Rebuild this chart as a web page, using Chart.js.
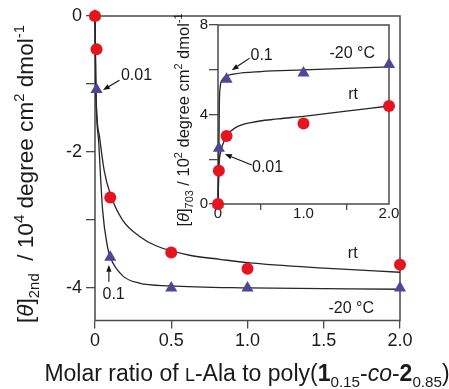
<!DOCTYPE html>
<html>
<head>
<meta charset="utf-8">
<script src="https://cdn.jsdelivr.net/npm/chart.js@4.4.0/dist/chart.umd.min.js"></script>
<style>
html,body{margin:0;padding:0;background:#fff;}
#wrap{position:relative;width:449px;height:389px;}
#main{position:absolute;left:0;top:0;}
#inset{position:absolute;left:160px;top:0;}
</style>
</head>
<body>
<div id="wrap">
<canvas id="main" width="449" height="389"></canvas>
<canvas id="inset" width="260" height="240"></canvas>
</div>
<script>
// ---------- DATA ----------
const mainX = [0, 0.01, 0.1, 0.5, 1.0, 2.0];
const mainRt = [0, -0.49, -2.67, -3.48, -3.72, -3.66];
const mainM20 = [0, -1.08, -3.55, -4.0, -4.0, -4.0];

const mainRtCurveX = [0, 0.006, 0.03, 0.06, 0.1, 0.18, 0.29, 0.4, 0.62, 0.82, 1.0, 1.5, 2.0];
const mainRtCurveY = [0, -1.1, -1.78, -2.27, -2.62, -3.0, -3.24, -3.38, -3.52, -3.58, -3.63, -3.71, -3.77];
const mainM20CurveX = [0, 0.006, 0.025, 0.05, 0.084, 0.1, 0.18, 0.29, 0.49, 1.0, 2.0];
const mainM20CurveY = [0, -1.1, -1.88, -2.86, -3.42, -3.55, -3.82, -3.93, -3.97, -4.0, -4.02];

const insetX = [0, 0.01, 0.1, 1.0, 2.0];
const insetRt = [0, 1.49, 3.04, 3.60, 4.38];
const insetM20 = [0, 2.49, 5.58, 5.86, 6.24];

const insetRtCurveX = [0, 0.005, 0.01, 0.03, 0.06, 0.1, 0.2, 0.4, 0.7, 1.0, 1.5, 2.0];
const insetRtCurveY = [0, 0.8, 1.6, 2.3, 2.7, 3.05, 3.4, 3.65, 3.8, 3.92, 4.15, 4.38];
const insetM20CurveX = [0, 0.008, 0.012, 0.016, 0.025, 0.05, 0.1, 0.2, 0.5, 1.0, 1.5, 2.0];
const insetM20CurveY = [0, 1.5, 3.0, 4.5, 5.2, 5.55, 5.72, 5.82, 5.92, 5.99, 6.06, 6.13];

const mainXTicks = [0, 0.5, 1.0, 1.5, 2.0];
const mainXTickLabels = ['0', '0.5', '1.0', '1.5', '2.0'];
const mainYTicks = [0, -1, -2, -3, -4];
const mainYTickLabels = ['0', '', '-2', '', '-4'];
const insetXTicks = [0, 0.5, 1.0, 1.5, 2.0];
const insetXTickLabels = ['0', '', '1.0', '', '2.0'];
const insetYTicks = [0, 2, 4, 6, 8];
const insetYTickLabels = ['0', '', '4', '', '8'];

// ---------- STYLE ----------
const FONT = '"Liberation Sans", Arial, Helvetica, sans-serif';
const RED = '#e5141f';
const BLUE = '#4b4799';
const LINE = '#262626';
const FRAME = '#4a4a4a';

function pts(xs, ys) { return xs.map((x, i) => ({x: x, y: ys[i]})); }

function markerSet(xs, ys, color, style, r) {
  return {data: pts(xs, ys), showLine: false, pointStyle: style, pointRadius: r,
    pointBackgroundColor: color, pointBorderColor: color, pointBorderWidth: 0, clip: false};
}
function curveSet(xs, ys) {
  return {data: pts(xs, ys), showLine: true, pointRadius: 0, borderColor: LINE, borderWidth: 1.3,
    cubicInterpolationMode: 'monotone', fill: false, clip: false};
}

function segFont(s, base) {
  let size = base;
  if (s.sub || s.sup) size = base * 0.66;
  if (s.sc) size = base * 0.78;
  return (s.it ? 'italic ' : '') + (s.b ? 'bold ' : '') + size.toFixed(1) + 'px ' + FONT;
}
function drawRich(ctx, segs, cx, cy, base, rot) {
  ctx.save();
  ctx.translate(cx, cy);
  if (rot) ctx.rotate(rot);
  ctx.fillStyle = '#1a1a1a';
  ctx.textBaseline = 'alphabetic';
  ctx.textAlign = 'left';
  let total = 0;
  segs.forEach(s => { ctx.font = segFont(s, base); total += ctx.measureText(s.t).width; });
  let x = -total / 2;
  const by = base * 0.36;
  segs.forEach(s => {
    ctx.font = segFont(s, base);
    let dy = 0;
    if (s.sub) dy = base * 0.24;
    if (s.sup) dy = -base * 0.4;
    ctx.fillText(s.t, x, by + dy);
    x += ctx.measureText(s.t).width;
  });
  ctx.restore();
}

function arrow(ctx, x1, y1, x2, y2) {
  ctx.save();
  ctx.strokeStyle = '#111'; ctx.fillStyle = '#111'; ctx.lineWidth = 1.1;
  const a = Math.atan2(y2 - y1, x2 - x1);
  const hl = 7, hw = 2.6;
  const bx = x2 - Math.cos(a) * hl, by = y2 - Math.sin(a) * hl;
  ctx.beginPath(); ctx.moveTo(x1, y1); ctx.lineTo(bx, by); ctx.stroke();
  ctx.beginPath();
  ctx.moveTo(x2, y2);
  ctx.lineTo(bx + Math.sin(a) * hw, by - Math.cos(a) * hw);
  ctx.lineTo(bx - Math.sin(a) * hw, by + Math.cos(a) * hw);
  ctx.closePath(); ctx.fill();
  ctx.restore();
}

const mainNotes = [
  {t: '0.01', x: 0.272, y: -0.87},
  {t: '0.1', x: 0.122, y: -4.1},
  {t: 'rt', x: 1.69, y: -3.5},
  {t: '-20 °C', x: 1.68, y: -4.31}
];
const mainArrows = [
  {x1: 0.16, y1: -0.945, x2: 0.052, y2: -1.09},
  {x1: 0.091, y1: -3.91, x2: 0.091, y2: -3.66}
];
const insetNotes = [
  {t: '0.1', x: 0.51, y: 6.65},
  {t: '-20 °C', x: 1.57, y: 6.74},
  {t: 'rt', x: 1.58, y: 4.87},
  {t: '0.01', x: 0.58, y: 1.61}
];
const insetArrows = [
  {x1: 0.37, y1: 6.52, x2: 0.16, y2: 5.98},
  {x1: 0.395, y1: 1.74, x2: 0.08, y2: 2.23}
];

function framePlugin(id) {
  return {
    id: id,
    beforeDatasetsDraw(chart) {
      const a = chart.chartArea, ctx = chart.ctx;
      ctx.save();
      ctx.strokeStyle = FRAME; ctx.lineWidth = 1.5;
      ctx.strokeRect(a.left, a.top, a.right - a.left, a.bottom - a.top);
      ctx.restore();
    }
  };
}

function notesPlugin(id, notes, arrows, size) {
  return {
    id: id,
    afterDatasetsDraw(chart) {
      const ctx = chart.ctx, xs = chart.scales.x, ys = chart.scales.y;
      ctx.save();
      ctx.fillStyle = '#1a1a1a';
      ctx.font = size + 'px ' + FONT;
      ctx.textAlign = 'center'; ctx.textBaseline = 'middle';
      notes.forEach(n => ctx.fillText(n.t, xs.getPixelForValue(n.x), ys.getPixelForValue(n.y)));
      ctx.restore();
      arrows.forEach(r => arrow(ctx, xs.getPixelForValue(r.x1), ys.getPixelForValue(r.y1),
        xs.getPixelForValue(r.x2), ys.getPixelForValue(r.y2)));
    }
  };
}

const mainYTitle = [
  {t: '['}, {t: 'θ', it: true}, {t: ']'}, {t: '2nd', sub: true}, {t: '  / 10'}, {t: '4', sup: true},
  {t: ' degree cm'}, {t: '2', sup: true}, {t: ' dmol'}, {t: '-1', sup: true}
];
const mainXTitle = [
  {t: 'Molar ratio of '}, {t: 'L', sc: true}, {t: '-Ala to poly('}, {t: '1', b: true}, {t: '0.15', sub: true},
  {t: '-'}, {t: 'co', it: true}, {t: '-'}, {t: '2', b: true}, {t: '0.85', sub: true}, {t: ')'}
];
const insetYTitle = [
  {t: '['}, {t: 'θ', it: true}, {t: ']'}, {t: '703', sub: true}, {t: ' / 10'}, {t: '2', sup: true},
  {t: ' degree cm'}, {t: '2', sup: true}, {t: ' dmol'}, {t: '-1', sup: true}
];

const mainTitles = {
  id: 'mainTitles',
  afterDraw(chart) {
    drawRich(chart.ctx, mainYTitle, 25, 174, 22.6, -Math.PI / 2);
    drawRich(chart.ctx, mainXTitle, 247, 373, 23, 0);
  }
};
const insetTitles = {
  id: 'insetTitles',
  afterDraw(chart) {
    drawRich(chart.ctx, insetYTitle, 23, 120, 16.5, -Math.PI / 2);
  }
};

function axis(min, max, ticks, labels, fontSize, tickLen, fitKey, fitVal, pad, tickColor) {
  return {
    type: 'linear', min: min, max: max,
    afterBuildTicks: s => { s.ticks = ticks.map(v => ({value: v})); },
    afterFit: s => { s[fitKey] = fitVal; },
    ticks: {
      callback: (v, i) => labels[i],
      font: {size: fontSize, family: FONT}, color: '#1a1a1a', padding: pad,
      maxRotation: 0, autoSkip: false
    },
    grid: {drawOnChartArea: false, drawTicks: true, tickLength: tickLen,
      tickColor: tickColor || FRAME, color: FRAME, lineWidth: 1.3},
    border: {display: false}
  };
}

new Chart(document.getElementById('main'), {
  type: 'scatter',
  data: {datasets: [
    markerSet(mainX, mainRt, RED, 'circle', 6),
    markerSet(mainX, mainM20, BLUE, 'triangle', 7),
    curveSet(mainRtCurveX, mainRtCurveY),
    curveSet(mainM20CurveX, mainM20CurveY)
  ]},
  options: {
    responsive: false, animation: false, devicePixelRatio: 1,
    layout: {padding: {left: 0, top: 16, right: 49, bottom: 0}},
    plugins: {legend: {display: false}, tooltip: {enabled: false}},
    scales: {
      x: axis(0, 2, mainXTicks, mainXTickLabels, 18, 8, 'height', 68.5, 2),
      y: axis(-4.48, 0, mainYTicks, mainYTickLabels, 18, 9, 'width', 95, 4)
    }
  },
  plugins: [framePlugin('mf'), notesPlugin('mn', mainNotes, mainArrows, 16), mainTitles]
});

new Chart(document.getElementById('inset'), {
  type: 'scatter',
  data: {datasets: [
    markerSet(insetX, insetRt, RED, 'circle', 6),
    markerSet(insetX, insetM20, BLUE, 'triangle', 7),
    curveSet(insetRtCurveX, insetRtCurveY),
    curveSet(insetM20CurveX, insetM20CurveY)
  ]},
  options: {
    responsive: false, animation: false, devicePixelRatio: 1,
    layout: {padding: {left: 0, top: 25, right: 31, bottom: 0}},
    plugins: {legend: {display: false}, tooltip: {enabled: false}},
    scales: {
      x: axis(0, 2, insetXTicks, insetXTickLabels, 15, 6, 'height', 36, -5.5,
        c => (insetXTickLabels[c.index] ? 'rgba(0,0,0,0)' : FRAME)),
      y: axis(0, 8, insetYTicks, insetYTickLabels, 15, 9, 'width', 58, 1)
    }
  },
  plugins: [framePlugin('if'), notesPlugin('in', insetNotes, insetArrows, 16), insetTitles]
});
</script>
</body>
</html>
